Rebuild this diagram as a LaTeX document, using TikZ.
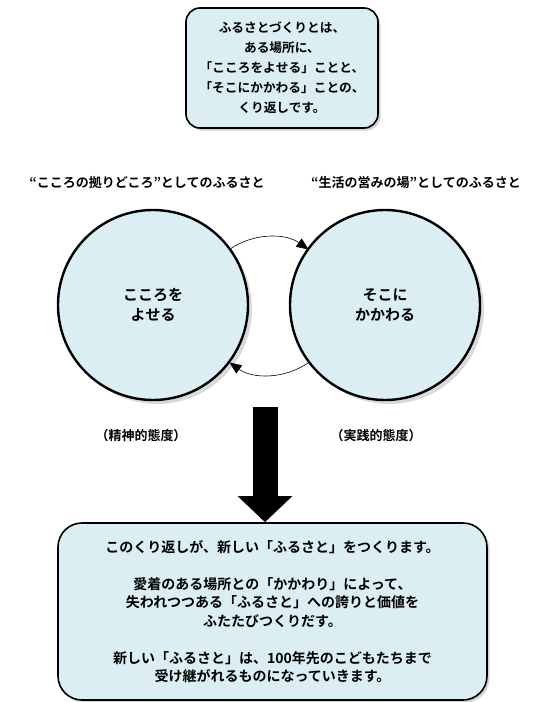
\documentclass[tikz,border=0pt]{standalone}
\usepackage{fontspec}
\setmainfont{Noto Sans CJK JP}[BoldFont={Noto Sans CJK JP Bold}]
\usepackage{tikz}
\usetikzlibrary{arrows.meta,shadows}

\definecolor{paleblue}{RGB}{219,238,243}

\tikzset{
  textbox/.style={draw, line width=1.6pt, fill=paleblue, rounded corners=#1,
    align=center, font=\bfseries\fontsize{12.7}{20}\selectfont,
    drop shadow={shadow xshift=2.5pt, shadow yshift=-2.5pt, opacity=0.35}},
  ring/.style={circle, draw, line width=2.4pt, fill=paleblue, minimum size=190pt,
    align=center, font=\bfseries\fontsize{15}{20}\selectfont,
    drop shadow={shadow xshift=4pt, shadow yshift=-4pt, opacity=0.3}},
  caption/.style={font=\bfseries\fontsize{13}{15}\selectfont},
  cyclearrow/.style={line width=0.6pt, -{Triangle[length=12pt,width=10pt]}},
}

\begin{document}
\begin{tikzpicture}[x=1pt, y=-1pt]
  \useasboundingbox (0,0) rectangle (539,702);

  % top explanation
  \node[textbox=14pt, minimum width=192pt, minimum height=120pt] (intro) at (282,68)
    {ふるさとづくりとは、\\ある場所に、\\「こころをよせる」ことと、\\「そこにかかわる」ことの、\\くり返しです。};

  \node[caption] (lefttitle) at (147,183) {“こころの拠りどころ”としてのふるさと};
  \node[caption] (righttitle) at (416,183) {“生活の営みの場”としてのふるさと};

  % the two circles
  \node[ring] (kokoro) at (153,305) {こころを\\よせる};
  \node[ring] (kakawaru) at (385,305) {そこに\\かかわる};

  % small cycle between them
  \coordinate (loop) at (269,306);
  \draw[cyclearrow] (loop) ++(-125:69) arc[start angle=-125, end angle=-55, radius=69];
  \draw[cyclearrow] (loop) ++(55:69) arc[start angle=55, end angle=125, radius=69];

  \node[caption] (seishin) at (141,436) {（精神的態度）};
  \node[caption] (jissen) at (376,436) {（実践的態度）};

  % result
  \node[textbox=24pt, minimum width=429pt, minimum height=177pt,
    font=\bfseries\fontsize{14}{18.5}\selectfont] (result) at (272.5,611.5)
    {このくり返しが、新しい「ふるさと」をつくります。\\[18.5pt]
     愛着のある場所との「かかわり」によって、\\
     失われつつある「ふるさと」への誇りと価値を\\
     ふたたびつくりだす。\\[18.5pt]
     新しい「ふるさと」は、100年先のこどもたちまで\\
     受け継がれるものになっていきます。};

  \coordinate (arrowtop) at (265,407);
  \draw[line width=25pt, -{Triangle[length=26pt,width=53pt]}] (arrowtop) -- (arrowtop |- result.north);
\end{tikzpicture}
\end{document}
